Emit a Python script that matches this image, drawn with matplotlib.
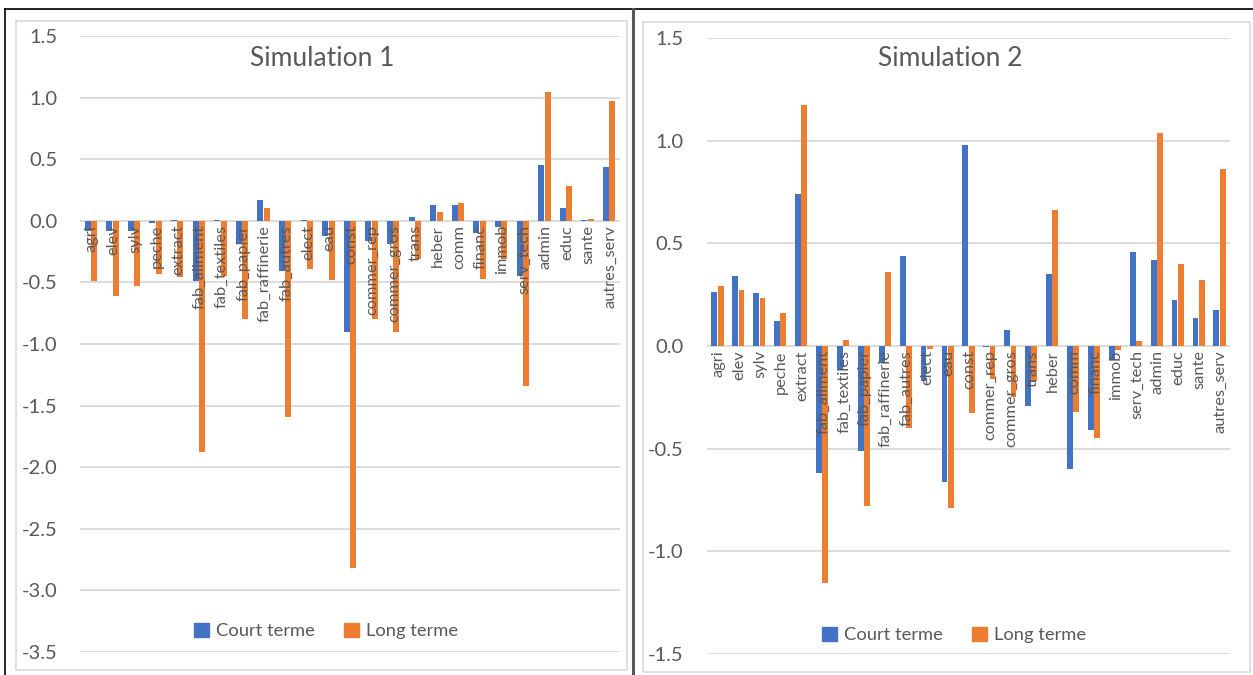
import numpy as np
import matplotlib
matplotlib.use('Agg')
import matplotlib.pyplot as plt
from matplotlib.patches import Patch
from matplotlib.lines import Line2D

plt.rcParams['font.family'] = 'Lato'

# secteurs
secteurs = ['agri', 'elev', 'sylv', 'peche', 'extract', 'fab_aliment', 'fab_textiles',
            'fab_papier', 'fab_raffinerie', 'fab_autres', 'elect', 'eau', 'const',
            'commer_rep', 'commer_gros', 'trans', 'heber', 'comm', 'financ', 'immob',
            'serv_tech', 'admin', 'educ', 'sante', 'autres_serv']

# simulation 1
sim1_court = [-0.08, -0.08, -0.08, -0.02, 0.005, -0.49, 0.005, -0.19, 0.17, -0.41,
              0.005, -0.12, -0.90, -0.16, -0.19, 0.03, 0.125, 0.125, -0.10, -0.05,
              -0.45, 0.45, 0.10, 0.005, 0.44]
sim1_long = [-0.49, -0.61, -0.53, -0.43, -0.46, -1.88, -0.45, -0.80, 0.105, -1.59,
             -0.39, -0.48, -2.82, -0.80, -0.90, -0.31, 0.07, 0.146, -0.47, -0.31,
             -1.34, 1.046, 0.28, 0.016, 0.97]

# simulation 2
sim2_court = [0.265, 0.343, 0.259, 0.122, 0.74, -0.62, -0.117, -0.51, -0.085, 0.44,
              -0.17, -0.66, 0.98, -0.003, 0.077, -0.29, 0.35, -0.60, -0.41, -0.067,
              0.46, 0.42, 0.226, 0.135, 0.174]
sim2_long = [0.291, 0.272, 0.233, 0.161, 1.176, -1.156, 0.031, -0.78, 0.362, -0.40,
             -0.013, -0.79, -0.327, -0.16, -0.25, -0.17, 0.662, -0.32, -0.45, -0.02,
             0.024, 1.039, 0.40, 0.323, 0.863]

BLEU = '#4472C4'
ORANGE = '#ED7D31'
GRIS = '#595959'
GRILLE = '#D9D9D9'

W, H = 1253, 675
fig = plt.figure(figsize=(W / 100, H / 100), dpi=100)
fig.patch.set_facecolor('white')


def px(x0, y0, x1, y1):
    # rect en pixels -> coords figure
    return [x0 / W, 1 - y1 / H, (x1 - x0) / W, (y1 - y0) / H]


def ligne(xs, ys, color, lw):
    fig.add_artist(Line2D([x / W for x in xs], [1 - y / H for y in ys],
                          color=color, lw=lw, transform=fig.transFigure))


# cadres
ligne([5, 1253], [9, 9], 'black', 1.2)
ligne([5, 5], [9, 675], 'black', 1.2)
ligne([633, 633], [9, 675], '#555555', 2.2)
ligne([16, 627, 627, 16, 16], [21, 21, 670, 670, 21], GRILLE, 1.2)
ligne([643, 1250, 1250, 643, 643], [22, 22, 672, 672, 22], GRILLE, 1.2)


def graphique(rect, court, long_, ylim, titre, titre_xy, leg_xy, pad):
    ax = fig.add_axes(rect)
    x = np.arange(len(secteurs))
    w = 0.28
    ax.bar(x - w / 2 - 0.01, court, w, color=BLEU, zorder=2)
    ax.bar(x + w / 2 + 0.01, long_, w, color=ORANGE, zorder=2)
    ax.set_xlim(-0.5, len(secteurs) - 0.5)
    ax.set_ylim(*ylim)
    ax.set_yticks(np.arange(ylim[0], ylim[1] + 0.01, 0.5))
    ax.yaxis.set_major_formatter(matplotlib.ticker.FormatStrFormatter('%.1f'))
    ax.grid(axis='y', color=GRILLE, lw=1.3, zorder=0)
    ax.set_axisbelow(True)
    for s in ax.spines.values():
        s.set_visible(False)
    ax.set_xticks([])
    ax.tick_params(axis='y', length=0, pad=pad, labelsize=14.5, labelcolor=GRIS)
    # etiquettes sous l'axe
    for i, nom in enumerate(secteurs):
        ax.annotate(nom, (i + 0.05, 0), xytext=(0, -3), textcoords='offset points',
                    rotation=90, ha='center', va='top', fontsize=11.8, color=GRIS,
                    zorder=3)
    fig.text(titre_xy[0] / W, 1 - titre_xy[1] / H, titre, ha='center', va='center',
             fontsize=19, color=GRIS)
    poignees = [Patch(color=BLEU), Patch(color=ORANGE)]
    fig.legend(poignees, ['Court terme', 'Long terme'], loc='center',
               bbox_to_anchor=(leg_xy[0] / W, 1 - leg_xy[1] / H), ncol=2,
               frameon=False, fontsize=13.2, labelcolor=GRIS, handlelength=0.8,
               handleheight=0.8, handletextpad=0.4, columnspacing=1.6)
    return ax


graphique(px(80, 36, 620, 652), sim1_court, sim1_long, (-3.5, 1.5),
          'Simulation 1', (322, 59), (326, 631), 16)
graphique(px(707, 38, 1230, 654), sim2_court, sim2_long, (-1.5, 1.5),
          'Simulation 2', (950, 59), (954, 635), 17)

fig.savefig('out.png', dpi=100, facecolor='white')
